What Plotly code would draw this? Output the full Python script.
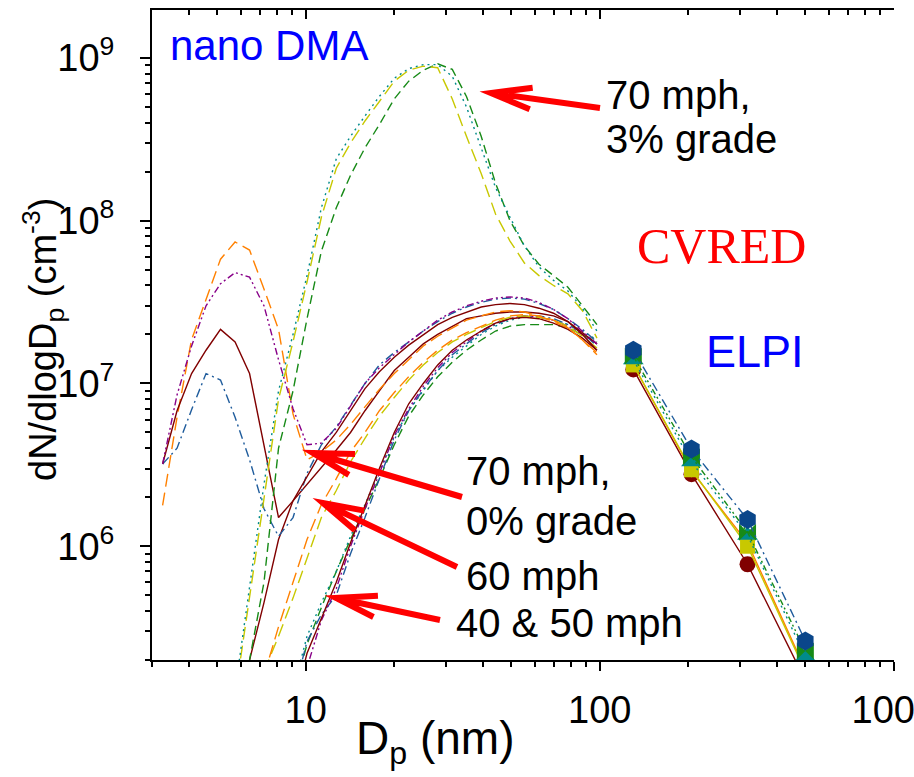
import math
import plotly.graph_objects as go

# ---------------- data ----------------
DP_DMA = [3.26, 3.65, 4.09, 4.58, 5.13, 5.75, 6.44, 7.21, 8.08, 9.05, 10.1, 11.3, 12.7, 14.2,
          15.9, 17.8, 20.0, 22.4, 25.1, 28.1, 31.5, 35.2, 39.5, 44.2, 49.5, 55.4, 62.1, 69.6,
          77.9, 87.3, 97.8]
N = None

# 70 mph, 3% grade
g3_olive = [N, N, N, N, N, 1.2e5, 4.8e5, 2.0e6, 8.0e6, 1.8e7, 4.2e7, 1.05e8, 2.1e8, 3.0e8,
            4.1e8, 5.4e8, 7.2e8, 8.4e8, 8.9e8, 8.7e8, 5.6e8, 3.3e8, 1.95e8, 1.1e8, 7.5e7, 5.5e7,
            4.6e7, 4.0e7, 3.55e7, 2.8e7, 1.9e7]
g3_teal = [N, N, N, N, N, 1.3e5, 5.5e5, 2.4e6, 9.0e6, 2.0e7, 4.6e7, 1.2e8, 2.4e8, 3.3e8,
           4.4e8, 5.8e8, 7.5e8, 8.6e8, 9.1e8, 9.1e8, 7.7e8, 5.0e8, 2.8e8, 1.6e8, 1.05e8, 7.0e7,
           5.2e7, 4.3e7, 3.7e7, 2.9e7, 2.1e7]
g3_green = [N, N, N, N, N, 6.0e4, 2.0e5, 6.0e5, 4.0e6, 9.0e6, 2.5e7, 6.5e7, 1.2e8, 1.9e8,
            2.8e8, 3.9e8, 5.6e8, 7.2e8, 8.4e8, 9.2e8, 8.5e8, 5.8e8, 3.3e8, 1.7e8, 1.0e8, 7.0e7,
            5.4e7, 4.6e7, 3.9e7, 3.0e7, 2.3e7]

# 70 mph, 0% grade (with nucleation mode)
g0_orange = [1.78e6, 6.2e6, 1.86e7, 3.3e7, 5.8e7, 7.4e7, 6.6e7, 3.8e7, 2.15e7, 6.5e6, 3.4e6,
             3.8e6, 4.5e6, 5.6e6, 7.2e6, 9.2e6, 1.15e7, 1.4e7, 1.7e7, 1.95e7, 2.2e7, 2.45e7,
             2.6e7, 2.75e7, 2.8e7, 2.75e7, 2.6e7, 2.4e7, 2.2e7, 1.85e7, 1.55e7]
g0_purple = [3.2e6, 8.5e6, 1.7e7, 3.0e7, 4.1e7, 4.8e7, 4.5e7, 3.0e7, 1.4e7, 7.0e6, 4.2e6,
             4.3e6, 5.3e6, 7.3e6, 1.0e7, 1.25e7, 1.5e7, 1.8e7, 2.1e7, 2.45e7, 2.75e7, 3.0e7,
             3.2e7, 3.35e7, 3.4e7, 3.35e7, 3.15e7, 2.85e7, 2.5e7, 2.1e7, 1.75e7]
g0_brown = [3.2e6, 6.8e6, 1.15e7, 1.6e7, 2.15e7, 1.8e7, 1.15e7, 4.2e6, 1.5e6, 1.9e6, 2.7e6,
            3.8e6, 5.0e6, 6.8e6, 9.3e6, 1.18e7, 1.45e7, 1.72e7, 2.0e7, 2.3e7, 2.55e7, 2.75e7,
            2.95e7, 3.05e7, 3.1e7, 3.05e7, 2.9e7, 2.7e7, 2.4e7, 2.05e7, 1.75e7]
g0_blue = [3.2e6, 4.0e6, 6.9e6, 1.15e7, 1.05e7, 6.2e6, 3.4e6, 1.7e6, 1.15e6, 1.5e6, 2.8e6,
           4.2e6, 5.4e6, 7.3e6, 1.0e7, 1.3e7, 1.55e7, 1.8e7, 2.1e7, 2.4e7, 2.7e7, 2.95e7,
           3.15e7, 3.3e7, 3.35e7, 3.3e7, 3.1e7, 2.85e7, 2.5e7, 2.15e7, 1.8e7]
g0_brown2 = [N, N, N, N, N, 8.0e4, 2.0e5, 4.5e5, 1.1e6, 1.9e6, 2.4e6, 3.0e6, 3.9e6, 5.0e6,
             6.8e6, 9.0e6, 1.2e7, 1.45e7, 1.75e7, 2.0e7, 2.25e7, 2.5e7, 2.6e7, 2.7e7, 2.75e7,
             2.75e7, 2.7e7, 2.6e7, 2.4e7, 2.0e7, 1.6e7]

# 60 mph
s60_orange = [N, N, N, N, N, N, N, 1.6e5, 3.2e5, 6.0e5, 1.1e6, 1.8e6, 2.6e6, 3.8e6, 5.0e6,
              6.8e6, 8.8e6, 1.1e7, 1.35e7, 1.6e7, 1.85e7, 2.05e7, 2.25e7, 2.45e7, 2.6e7,
              2.65e7, 2.6e7, 2.45e7, 2.2e7, 1.85e7, 1.5e7]
s60_olive = [N, N, N, N, N, N, N, 1.7e5, 2.8e5, 4.8e5, 8.5e5, 1.5e6, 2.2e6, 3.3e6, 4.6e6,
             6.3e6, 8.2e6, 1.05e7, 1.3e7, 1.55e7, 1.8e7, 2.0e7, 2.2e7, 2.4e7, 2.55e7, 2.6e7,
             2.55e7, 2.45e7, 2.25e7, 1.95e7, 1.65e7]

# 40 & 50 mph
s45_blue = [N, N, N, N, N, N, N, N, N, 1.2e5, 2.6e5, 3.8e5, 5.0e5, 9.0e5, 1.5e6, 2.6e6, 4.5e6,
            6.8e6, 9.2e6, 1.2e7, 1.5e7, 1.75e7, 2.05e7, 2.3e7, 2.5e7, 2.6e7, 2.6e7, 2.5e7,
            2.3e7, 2.05e7, 1.7e7]
s45_purple = [N, N, N, N, N, N, N, N, N, 9.0e4, 1.8e5, 3.5e5, 5.5e5, 1.0e6, 1.7e6, 2.8e6,
              4.8e6, 7.0e6, 9.6e6, 1.25e7, 1.55e7, 1.8e7, 2.1e7, 2.35e7, 2.5e7, 2.6e7,
              2.55e7, 2.45e7, 2.25e7, 2.0e7, 1.75e7]
s45_brown = [N, N, N, N, N, N, N, N, N, 1.0e5, 2.2e5, 3.6e5, 6.0e5, 1.05e6, 1.8e6, 3.0e6,
             5.0e6, 7.5e6, 1.0e7, 1.3e7, 1.6e7, 1.85e7, 2.1e7, 2.35e7, 2.5e7, 2.55e7, 2.5e7,
             2.35e7, 2.15e7, 1.9e7, 1.6e7]
s45_green = [N, N, N, N, N, N, N, N, N, 1.2e5, 2.5e5, 4.2e5, 7.0e5, 1.1e6, 1.7e6, 2.6e6,
             4.2e6, 6.3e6, 8.5e6, 1.1e7, 1.35e7, 1.6e7, 1.85e7, 2.1e7, 2.25e7, 2.3e7, 2.3e7,
             2.3e7, 2.2e7, 2.0e7, 1.8e7]
s45_teal = [N, N, N, N, N, N, N, N, N, 1.3e5, 2.8e5, 4.5e5, 7.0e5, 1.15e6, 1.8e6, 2.9e6,
            4.7e6, 6.8e6, 9.0e6, 1.2e7, 1.45e7, 1.7e7, 2.0e7, 2.25e7, 2.45e7, 2.55e7, 2.55e7,
            2.45e7, 2.3e7, 2.1e7, 1.85e7]

# ELPI
DP_ELPI = [130, 205, 318, 500]
elpi_brown = [1.22e7, 2.77e6, 7.75e5, 1.5e5]
elpi_orange = [1.3e7, 2.9e6, 1.05e6, 1.75e5]
elpi_olive = [1.3e7, 2.95e6, 1.0e6, 1.7e5]
elpi_teal = [1.4e7, 3.3e6, 1.17e6, 2.1e5]
elpi_green = [1.47e7, 3.55e6, 1.22e6, 2.27e5]
elpi_blue = [1.6e7, 3.95e6, 1.46e6, 2.62e5]

X_TICKS = [10, 100, 1000]
X_TICKTEXT = ["10", "100", "1000"]
Y_TICKS = [1e6, 1e7, 1e8, 1e9]
Y_TICKTEXT = ["10<sup>6</sup>", "10<sup>7</sup>", "10<sup>8</sup>", "10<sup>9</sup>"]

# ---------------- styles ----------------
ORANGE = "#ff8000"
PURPLE = "#880088"
BROWN = "#800000"
BLUE = "#1f5c9c"
OLIVE = "#c8c800"
TEAL = "#008b8b"
GREEN = "#178a17"
NAVY = "#0a468a"

D_LONG = "13px,6px"
D_DDOT = "7px,3px,2px,3px,2px,3px"
D_DDOT_BLUE = "9px,4px,2px,4px"
D_DOT = "2px,4px"
D_DASH = "9px,5px"

fig = go.Figure()

def add_line(x, y, color, dash, width=1.4, xaxis="x"):
    fig.add_trace(go.Scatter(x=x, y=y, mode="lines", hoverinfo="skip", xaxis=xaxis,
                             line=dict(color=color, width=width, dash=dash)))

dma = [
    (s45_green, GREEN, D_DASH), (s45_teal, TEAL, D_DOT), (s45_blue, BLUE, D_DDOT_BLUE),
    (s45_purple, PURPLE, D_DDOT), (s45_brown, BROWN, "solid"),
    (s60_olive, OLIVE, D_LONG), (s60_orange, ORANGE, D_LONG),
    (g0_brown2, BROWN, "solid"), (g0_orange, ORANGE, D_LONG), (g0_blue, BLUE, D_DDOT_BLUE),
    (g0_brown, BROWN, "solid"), (g0_purple, PURPLE, D_DDOT),
    (g3_green, GREEN, D_DASH), (g3_olive, OLIVE, D_LONG), (g3_teal, TEAL, D_DOT),
]
for i, (y, c, d) in enumerate(dma):
    # the last curve is drawn against the (identical) top axis so that axis gets rendered
    add_line(DP_DMA, y, c, d, xaxis="x2" if i == len(dma) - 1 else "x")

elpi = [
    (elpi_brown, BROWN, "solid", "circle", 16, BROWN),
    (elpi_orange, ORANGE, "solid", "diamond", 10, ORANGE),
    (elpi_olive, OLIVE, "solid", "square", 15, OLIVE),
    (elpi_teal, TEAL, D_DOT, "triangle-up", 18, TEAL),
    (elpi_green, GREEN, "6px,3px,2px,3px,2px,3px", "bowtie", 17, GREEN),
    (elpi_blue, BLUE, D_DDOT_BLUE, "hexagon", 19, NAVY),
]
for y, c, d, sym, sz, mc in elpi:
    fig.add_trace(go.Scatter(x=DP_ELPI, y=y, mode="lines+markers", hoverinfo="skip",
                             line=dict(color=c, width=1.4, dash=d),
                             marker=dict(symbol=sym, size=sz, color=mc, line=dict(width=0))))

# ---------------- layout ----------------
L, R, T, B = 152, 20, 10, 117
W, H = 914, 777
PW, PH = W - L - R, H - T - B

def paper(px, py):
    return (px - L) / PW, (T + PH - py) / PH

TICKFONT = dict(family="Liberation Sans Narrow, Arial Narrow, Liberation Sans, Arial",
                size=38, color="black")
TXT = "Liberation Sans, Arial, sans-serif"

x_minor = sorted(set([3, 4, 5, 6, 7, 8, 9] + [v * 10 for v in range(2, 10)] +
                     [v * 100 for v in range(2, 10)]))
y_minor = [v * 10 ** e for e in range(5, 10) for v in range(2, 10) if 2e5 <= v * 10 ** e <= 2e9]

xr = [math.log10(3), 3.0005]
yr = [math.log10(2e5), math.log10(1.97e9)]

common_x = dict(type="log", range=xr, showline=True, linecolor="black", linewidth=2,
                ticklen=9, tickwidth=2, tickcolor="black", tickvals=X_TICKS,
                showgrid=False, zeroline=False, automargin=False)

fig.update_layout(
    width=W, height=H, margin=dict(l=L, r=R, t=T, b=B, autoexpand=False),
    paper_bgcolor="white", plot_bgcolor="white", showlegend=False,
    xaxis=dict(**common_x, ticks="outside", ticktext=X_TICKTEXT, tickfont=TICKFONT,
               ticklabelstandoff=6, ticklabeloverflow="allow",
               minor=dict(ticks="outside", ticklen=5, tickwidth=1.5, tickcolor="black",
                          tickvals=x_minor, showgrid=False)),
    xaxis2=dict(**common_x, overlaying="x", side="top", anchor="y", ticks="inside",
                showticklabels=False,
                minor=dict(ticks="inside", ticklen=5, tickwidth=1.5, tickcolor="black",
                           tickvals=x_minor, showgrid=False)),
    yaxis=dict(type="log", range=yr, showline=True, linecolor="black", linewidth=2,
               ticks="outside", ticklen=10, tickwidth=2, tickcolor="black",
               tickvals=Y_TICKS, ticktext=Y_TICKTEXT, tickfont=TICKFONT,
               ticklabelstandoff=18, showgrid=False, zeroline=False, automargin=False,
               minor=dict(ticks="outside", ticklen=5, tickwidth=1.5, tickcolor="black",
                          tickvals=y_minor, showgrid=False)),
)

def text(s, px, py, size, color="black", family=TXT, xanchor="left", angle=0):
    x, y = paper(px, py)
    fig.add_annotation(text=s, x=x, y=y, xref="paper", yref="paper", showarrow=False,
                       xanchor=xanchor, yanchor="middle", textangle=angle,
                       font=dict(family=family, size=size, color=color))

text("nano DMA", 168, 46, 42, color="#0000ff")
text("70 mph,", 604, 95, 40)
text("3% grade", 604, 139, 40)
text("CVRED", 721, 246, 50, color="#ff0000",
     family="Liberation Serif, Times New Roman, serif", xanchor="center")
text("ELPI", 755, 351, 45, color="#0000ff", xanchor="center")
text("70 mph,", 464, 471, 40)
text("0% grade", 464, 521, 40)
text("60 mph", 464, 576, 40)
text("40 &amp; 50 mph", 454, 623, 40)
text("D<sub>p</sub> (nm)", 435, 742, 46, xanchor="center")
text("dN/dlogD<sub>p</sub> (cm<sup>-3</sup>)", 43, 340, 38, xanchor="center", angle=-90)

# red arrows (tip, tail) in pixel positions of the page
ARROWS = [((491, 93), (600, 108)), ((313, 453), (462, 497)),
          ((323, 503), (457, 567)), ((336, 598), (440, 620))]
for (tx, ty), (sx, sy) in ARROWS:
    dx, dy = sx - tx, sy - ty
    n = math.hypot(dx, dy)
    ux, uy = dx / n, dy / n
    pts = []
    for a in (math.radians(15), -math.radians(15)):
        rx = ux * math.cos(a) - uy * math.sin(a)
        ry = ux * math.sin(a) + uy * math.cos(a)
        pts.append((tx + 42 * rx, ty + 42 * ry))
    p_tip = paper(tx, ty)
    p_tail = paper(sx, sy)
    p_a = paper(*pts[0])
    p_b = paper(*pts[1])
    path = (f"M {p_a[0]},{p_a[1]} L {p_tip[0]},{p_tip[1]} L {p_b[0]},{p_b[1]} "
            f"M {p_tip[0]},{p_tip[1]} L {p_tail[0]},{p_tail[1]}")
    fig.add_shape(type="path", path=path, xref="paper", yref="paper",
                  line=dict(color="#ff0000", width=6))

fig.write_html("out.html")
